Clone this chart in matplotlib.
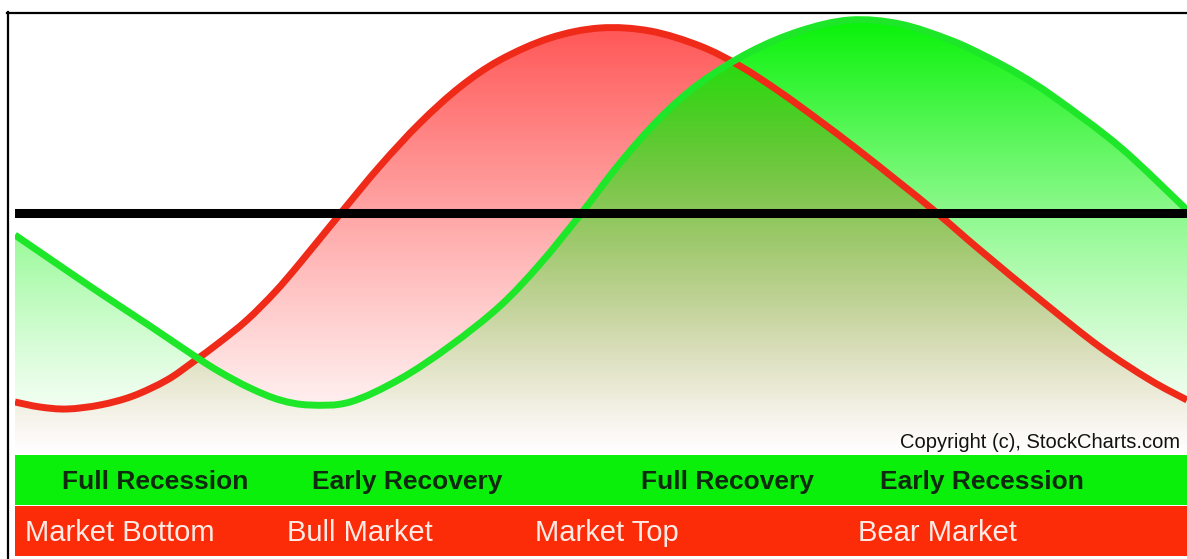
import numpy as np
import matplotlib
matplotlib.use("Agg")
import matplotlib.pyplot as plt
from matplotlib.patches import PathPatch, Rectangle
from matplotlib.path import Path
from matplotlib.lines import Line2D

plt.rcParams['font.family'] = ['Liberation Sans', 'DejaVu Sans']

# Cycle position (horizontal) and level (vertical)
red_x = [15, 40, 67, 100, 133, 167, 193, 220, 247, 275, 300, 340, 380, 420, 460,
         500, 550, 600, 650, 700, 740, 780, 820, 857, 900, 937, 980, 1043, 1100,
         1150, 1187]
red_level = [53, 48, 46, 50, 59, 75, 93, 113, 135, 163, 192, 241, 289, 332, 368,
             395, 417, 427, 424, 409, 389, 363, 334, 306, 272, 242, 205, 153, 108,
             75, 55]

green_x = [15, 50, 100, 150, 193, 220, 250, 280, 310, 350, 400, 450, 500, 540,
           580, 620, 660, 700, 750, 800, 850, 900, 950, 987, 1020, 1054, 1120, 1187]
green_level = [220, 196, 162, 129, 100, 83, 67, 55, 50, 53, 76, 109, 149, 191,
               240, 292, 337, 372, 403, 424, 435, 431, 415, 398, 380, 358, 308, 245]

baseline_level = 242

economy_labels = ['Full Recession', 'Early Recovery', 'Full Recovery', 'Early Recession']
economy_pos = [62, 312, 641, 880]
market_labels = ['Market Bottom', 'Bull Market', 'Market Top', 'Bear Market']
market_pos = [25, 287, 535, 858]

W, H = 1187, 559
fig = plt.figure(figsize=(W / 100, H / 100), dpi=100)
fig.patch.set_facecolor('white')

# background axes in pixel units for frame, bands and labels
bg = fig.add_axes([0, 0, 1, 1])
bg.set_xlim(0, W)
bg.set_ylim(H, 0)
bg.axis('off')

bg.add_line(Line2D([7.5, 7.5], [12, H], color='black', lw=1.6))
bg.add_line(Line2D([7, W], [12.5, 12.5], color='black', lw=1.6))

bg.add_patch(Rectangle((15, 455), W - 15, 50, facecolor='#0af00a', edgecolor='none'))
bg.add_patch(Rectangle((15, 506), W - 15, 50, facecolor='#fc2c08', edgecolor='none'))

for lab, x in zip(economy_labels, economy_pos):
    bg.text(x, 482, lab, fontsize=19, fontweight='bold', color='#0f2a0f',
            ha='left', va='center')
for lab, x in zip(market_labels, market_pos):
    bg.text(x, 533, lab, fontsize=21, color='#ffebe6', ha='left', va='center')

bg.text(1180, 443, 'Copyright (c), StockCharts.com', fontsize=14.5, color='#111111',
        ha='right', va='center')

# curve axes
left, top, bottom = 15, 12, 455
ax = fig.add_axes([left / W, (H - bottom) / H, (W - left) / W, (bottom - top) / H])
ax.set_facecolor('none')
ax.axis('off')


def smooth_path(x, y, close_to=None):
    # cubic bezier path through the points (catmull-rom style handles)
    p = np.column_stack([x, y]).astype(float)
    ext = np.vstack([p[0], p, p[-1]])
    verts = [p[0]]
    codes = [Path.MOVETO]
    for i in range(len(p) - 1):
        c1 = ext[i + 1] + (ext[i + 2] - ext[i]) / 6
        c2 = ext[i + 2] - (ext[i + 3] - ext[i + 1]) / 6
        verts += [c1, c2, ext[i + 2]]
        codes += [Path.CURVE4] * 3
    if close_to is not None:
        verts += [(x[-1], close_to), (x[0], close_to), p[0]]
        codes += [Path.LINETO, Path.LINETO, Path.CLOSEPOLY]
    return Path(verts, codes)


def gradient_fill(x, y, rgb, top_alpha, power):
    n = 256
    lv = np.linspace(0, 443, n)
    a = top_alpha * np.clip(lv / 435, 0, 1) ** power
    img = np.zeros((n, 1, 4))
    img[:, 0, :3] = rgb
    img[:, 0, 3] = a
    patch = PathPatch(smooth_path(x, y, close_to=0), facecolor='none', edgecolor='none')
    ax.add_patch(patch)
    im = ax.imshow(img, extent=[15, W, 0, 443], origin='lower', aspect='auto',
                   interpolation='bilinear')
    im.set_clip_path(patch)


def curve(x, y, color):
    ax.add_patch(PathPatch(smooth_path(x, y), facecolor='none', edgecolor=color,
                           lw=5, capstyle='butt', joinstyle='round'))


gradient_fill(red_x, red_level, (1.0, 0.16, 0.16), 0.8, 1.1)
curve(red_x, red_level, '#f02a18')
gradient_fill(green_x, green_level, (0.0, 0.95, 0.0), 0.97, 1.3)
curve(green_x, green_level, '#1ee628')
ax.axhline(baseline_level, color='black', lw=6.5)

ax.set_xlim(15, W)
ax.set_ylim(0, 443)

fig.savefig('out.png', dpi=100)
